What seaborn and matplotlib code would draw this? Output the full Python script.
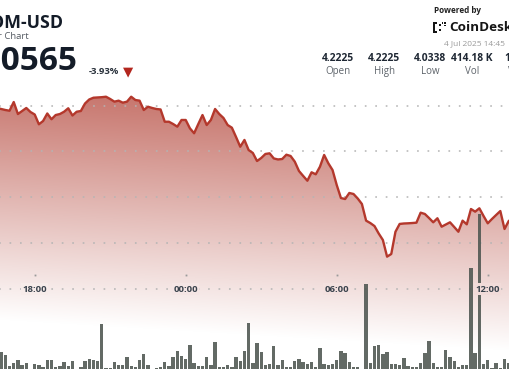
import numpy as np
import pandas as pd
import matplotlib
matplotlib.use("Agg")
import matplotlib.pyplot as plt
import seaborn as sns
from matplotlib.patches import Rectangle

# ---------------- data ----------------
start_time = "2025-07-03 16:30"
price = [
    4.1975, 4.1964, 4.1953, 4.1945, 4.2040, 4.1909, 4.1942, 4.1975, 4.1931,
    4.1904, 4.1797, 4.1833, 4.1915, 4.1852, 4.1898, 4.1909, 4.1934, 4.1972,
    4.1893, 4.1934, 4.1942, 4.2024, 4.2068, 4.2087, 4.2090, 4.2093, 4.2098,
    4.2073, 4.2044, 4.2055, 4.2033, 4.2044, 4.2098, 4.2062, 4.2055, 4.1953,
    4.1989, 4.1975, 4.1964, 4.1959, 4.1825, 4.1825, 4.1800, 4.1771, 4.1844,
    4.1844, 4.1753, 4.1699, 4.1800, 4.1898, 4.1789, 4.1844, 4.1964, 4.1909,
    4.1866, 4.1789, 4.1760, 4.1658, 4.1552, 4.1626, 4.1516, 4.1484, 4.1396,
    4.1429, 4.1473, 4.1480, 4.1424, 4.1413, 4.1418, 4.1465, 4.1451, 4.1389,
    4.1287, 4.1233, 4.1181, 4.1273, 4.1251, 4.1334, 4.1462, 4.1371, 4.1298,
    4.1134, 4.0992, 4.0981, 4.1047, 4.1036, 4.0987, 4.0927, 4.0745, 4.0719,
    4.0686, 4.0605, 4.0534, 4.0352, 4.0381, 4.0624, 4.0709, 4.0714, 4.0716,
    4.0719, 4.0723, 4.0832, 4.0818, 4.0774, 4.0727, 4.0771, 4.0679, 4.0703,
    4.0727, 4.0676, 4.0624, 4.0745, 4.0705, 4.0872, 4.0843, 4.0880, 4.0796,
    4.0716, 4.0763, 4.0807, 4.0850, 4.0654, 4.0741, 4.0774,
]
volume_k = [
    2.0, 4.6, 3.7, 1.0, 1.7, 2.4, 1.25, 1.7, 0.3,
    1.4, 1.25, 0.8, 2.4, 2.4, 0.8, 1.0, 1.9, 1.1,
    2.25, 0.3, 0.7, 2.25, 2.7, 2.5, 2.25, 11.4, 0.6,
    0.6, 2.1, 1.25, 1.25, 3.3, 1.1, 0.7, 2.5, 3.9,
    1.25, 0.3, 0.6, 0.7, 2.0, 1.0, 3.3, 4.75, 3.5,
    2.75, 6.2, 1.8, 1.1, 1.1, 3.3, 1.3, 6.9, 0.8,
    0.8, 1.3, 0.7, 3.3, 2.25, 4.75, 11.7, 1.8, 6.7,
    4.4, 1.25, 1.4, 6.0, 1.25, 2.5, 0.8, 0.8, 2.3,
    2.75, 1.9, 1.4, 2.1, 0.8, 5.4, 1.5, 1.25, 1.5,
    2.5, 4.8, 4.3, 1.9, 0.8, 0.8, 0.3, 21.4, 1.7,
    6.1, 6.25, 4.0, 4.4, 1.5, 1.5, 1.25, 3.1, 1.0,
    0.8, 0.8, 1.8, 4.3, 7.3, 1.8, 0.8, 0.8, 5.0,
    3.3, 2.25, 0.8, 1.25, 1.25, 25.6, 4.2, 39.0, 1.5,
    2.5, 0.5, 1.8, 0.5, 2.8, 1.7, 1.5,
]
tick_times = ["2025-07-03 18:00", "2025-07-04 00:00", "2025-07-04 06:00", "2025-07-04 12:00"]
tick_labels = ["18:00", "00:00", "06:00", "12:00"]
grid_levels = [4.00, 4.05, 4.10, 4.15, 4.20]

symbol = "OM-USD"
subtitle = "24 Hour Chart"
last_price = "4.0565"
change_pct = "-3.93%"
stamp = "4 Jul 2025 14:45"
stat_values = ["4.2225", "4.2225", "4.0338", "414.18 K", "1.71 M"]
stat_labels = ["Open", "High", "Low", "Vol", "VWAP"]

# ---------------- setup ----------------
W, H = 510, 369
sns.set_theme(style="white")
plt.rcParams["font.family"] = ["Open Sans", "DejaVu Sans"]

times = pd.date_range(start_time, periods=len(price), freq="10min")
ref = pd.Timestamp(tick_times[0])
hours = np.asarray((times - ref) / pd.Timedelta(hours=1), dtype=float)
tick_hours = [(pd.Timestamp(t) - ref) / pd.Timedelta(hours=1) for t in tick_times]
df = pd.DataFrame({"hours": hours, "price": price, "volume": volume_k})

fig = plt.figure(figsize=(W / 100, H / 100), dpi=100, facecolor="white")
ax = fig.add_axes([0, 0, 1, 1])
ax.set_facecolor("white")

XLIM = (-1.3786, 18.884)
YLIM = (3.91255, 4.31539)
ax.set_xlim(XLIM)
ax.set_ylim(YLIM)

base = np.array([190, 95, 85]) / 255.0


def grad_alpha(xp, yp):
    yeff = yp + 0.06 * (255 - xp)
    return np.clip(0.87 - (yeff - 100) * 0.0037, 0, 1)


def grad_color(xp, yp):
    a = grad_alpha(xp, yp)
    return tuple(1 - a * (1 - base))


# gradient fill clipped to the area under the line
yy, xx = np.mgrid[0:H, 0:W] + 0.5
A = grad_alpha(xx, yy)[..., None]
img = 1 - A * (1 - base[None, None, :])
poly = ax.fill_between(df["hours"], df["price"], YLIM[0], facecolor="none", edgecolor="none")
im = ax.imshow(img, extent=(XLIM[0], XLIM[1], YLIM[0], YLIM[1]), origin="upper",
               aspect="auto", zorder=1, interpolation="bilinear")
im.set_clip_path(poly.get_paths()[0], transform=ax.transData)

# dotted grid
ax.set_yticks(grid_levels)
ax.set_xticks([])
ax.grid(axis="y", color="#b4b4b4", linestyle=(0.6, (1.1, 5.74)), linewidth=1.1)
ax.set_axisbelow(False)
ax.tick_params(left=False, right=False, bottom=False, labelleft=False, labelbottom=False)
for s in ax.spines.values():
    s.set_visible(False)

# volume bars
ax2 = ax.twinx()
sns.histplot(data=df, x="hours", weights="volume", binwidth=1 / 6,
             binrange=(hours[0] - 1 / 12, hours[-1] + 1 / 12), shrink=0.8,
             color="#4d5550", alpha=0.88, edgecolor="none", linewidth=0, ax=ax2, zorder=3)
ax2.set_ylim(0.25, 92.5)
ax2.set_xlim(XLIM)
ax2.axis("off")

# price line (on top)
ax3 = ax.twinx()
sns.lineplot(data=df, x="hours", y="price", color="#b4382c", linewidth=1.7, ax=ax3,
             solid_joinstyle="round", solid_capstyle="round")
ax3.set_xlim(XLIM)
ax3.set_ylim(YLIM)
ax3.axis("off")

# x labels
label_y = (H - 289) / H
dot_y = (H - 274.7) / H
tr = ax3.get_xaxis_transform()
for th, lab in zip(tick_hours, tick_labels):
    xp = (th - XLIM[0]) / (XLIM[1] - XLIM[0]) * W
    ax3.text(th, label_y, lab, transform=tr, ha="center", va="center", fontsize=6.8,
             fontweight="bold", color="#39424c",
             bbox=dict(boxstyle="square,pad=0.15", facecolor=grad_color(xp, 289), edgecolor="none"))
ax3.plot(tick_hours, [dot_y] * len(tick_hours), transform=tr, ls="none", marker="s",
         ms=1.3, color="#9a9a9a", mew=0)


# ---------------- header ----------------
def fx(x):
    return x / W


def fy(y):
    return 1 - y / H


dark = "#141c28"
fig.text(fx(62.7), fy(23), symbol, ha="right", va="center", fontsize=12.8, fontweight="bold", color=dark)
fig.text(fx(28.5), fy(36.8), subtitle, ha="right", va="center", fontsize=6.8, color="#555b63")
fig.text(fx(77.5), fy(62), last_price, ha="right", va="center", fontsize=24, fontweight="bold", color=dark)
fig.text(fx(88.3), fy(71.8), change_pct, ha="left", va="center", fontsize=6.8, fontweight="bold", color="#2a323c")
fig.text(fx(127.7), fy(72.3), "\u25BC", ha="center", va="center", fontsize=9.5,
         color="#b3261e", family="DejaVu Sans")

fig.text(fx(434), fy(10.3), "Powered by", ha="left", va="center", fontsize=5.9, fontweight="bold", color="#222")
# CoinDesk mark
for (x0, y0, w, h) in [(433.5, 22, 1.8, 11), (435.3, 22, 1.6, 1.6), (435.3, 31.4, 1.6, 1.6),
                       (438.8, 24.5, 1.7, 1.7), (438.8, 29, 1.7, 1.7), (441.8, 22, 1.7, 1.7),
                       (444.2, 22, 1.7, 1.7), (444.2, 24.7, 1.7, 1.7)]:
    fig.patches.append(Rectangle((fx(x0), fy(y0 + h)), w / W, h / H, transform=fig.transFigure,
                                 facecolor="#151515", edgecolor="none"))
fig.text(fx(449), fy(27.3), "CoinDesk", ha="left", va="center", fontsize=9.7, fontweight="bold", color="#151515")
fig.text(fx(444.3), fy(44), stamp, ha="left", va="center", fontsize=6.0, color="#9a9a9a")

stat_x = [338.3, 384.3, 430.0, 471.7, 521.5]
for sx, v, l in zip(stat_x, stat_values, stat_labels):
    fig.text(fx(sx), fy(58.5), v, ha="center", va="center", fontsize=7.4, fontweight="bold", color="#1e2733")
    fig.text(fx(sx), fy(71.5), l, ha="center", va="center", fontsize=7.0, color="#5d636a")

fig.savefig("out.png", dpi=100, facecolor="white")
